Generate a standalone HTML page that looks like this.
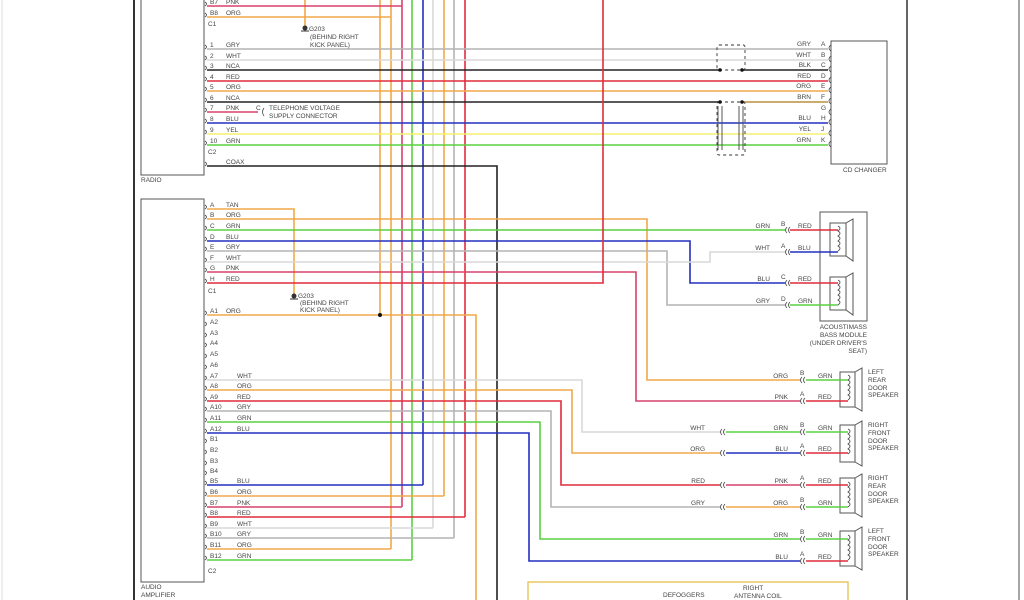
<!DOCTYPE html>
<html><head><meta charset="utf-8"><style>
html,body{margin:0;padding:0;background:#fff;}
svg{display:block;}
text{font-family:"Liberation Sans",sans-serif;font-size:6.5px;fill:#444;}
.w{fill:none;stroke-width:1.6;}
.r{stroke:#e02c3c}.o{stroke:#f0a848}.p{stroke:#d8406c}.g{stroke:#58d040}.b{stroke:#2430c0}
.gy{stroke:#b4b4b4}.wh{stroke:#d8d8d8}.y{stroke:#f4f070}.k{stroke:#222}.br{stroke:#b89040}
.bx{fill:none;stroke:#555;stroke-width:1}
.c{fill:none;stroke:#444;stroke-width:0.8}
</style></head><body>
<svg width="1024" height="600" viewBox="0 0 1024 600" xmlns="http://www.w3.org/2000/svg">
<rect width="1024" height="600" fill="#fff"/>
<line x1="2" y1="0" x2="2" y2="600" stroke="#ddd" stroke-width="1"/>
<line x1="134" y1="0" x2="134" y2="600" stroke="#333" stroke-width="2"/>
<line x1="907" y1="0" x2="907" y2="600" stroke="#333" stroke-width="1.5"/>
<line x1="1019" y1="0" x2="1019" y2="600" stroke="#888" stroke-width="1.5"/>

<!-- boxes -->
<rect class="bx" x="141" y="-2" width="63" height="177"/>
<text x="141" y="182">RADIO</text>
<rect class="bx" x="141" y="199" width="63" height="383"/>
<text x="141" y="589">AUDIO</text>
<text x="141" y="597">AMPLIFIER</text>

<!-- vertical bus wires -->
<path class="w o" d="M380 0V315"/>
<path class="w o" d="M391 0V549"/>
<path class="w p" d="M402 0V507"/>
<path class="w g" d="M412 0V560"/>
<path class="w b" d="M423 0V485"/>
<path class="w wh" d="M433 0V528"/>
<path class="w o" d="M444 0V496"/>
<path class="w gy" d="M454 0V538"/>
<path class="w r" d="M465 0V517"/>
<path class="w o" d="M305 0V27"/>

<!-- radio wires -->
<path class="w p" d="M207 6H402"/>
<path class="w o" d="M207 17H391"/>
<path class="w gy" d="M207 49H828"/>
<path class="w wh" d="M207 60H828"/>
<path class="w k" d="M207 70H720"/>
<path class="w r" d="M207 81H828"/>
<path class="w o" d="M207 91H828"/>
<path class="w k" d="M207 102H720"/>
<path class="w p" d="M207 112H258"/>
<path class="w b" d="M207 123H828"/>
<path class="w y" d="M207 134H828"/>
<path class="w g" d="M207 145H828"/>
<path class="w k" d="M207 166H497V600"/>
<path class="w k" d="M742 70H828"/>
<path class="w br" d="M742 102H828"/>

<!-- amp C1 wires -->
<path class="w o" d="M207 209H294V295"/>
<path class="w o" d="M207 219H647V380H800"/>
<path class="w g" d="M207 230H785"/>
<path class="w b" d="M207 241H690V283H785"/>
<path class="w gy" d="M207 251H667V305H785"/>
<path class="w wh" d="M207 262H710V252H785"/>
<path class="w p" d="M207 272H636V401H800"/>
<path class="w r" d="M207 283H603V0"/>
<!-- amp A wires -->
<path class="w o" d="M207 315H476V600"/>
<circle cx="380" cy="315" r="2" fill="#111"/>
<path class="w wh" d="M207 380H582V432H720"/>
<path class="w o" d="M207 390H572V453H720"/>
<path class="w r" d="M207 401H561V485H720"/>
<path class="w gy" d="M207 411H551V507H720"/>
<path class="w g" d="M207 422H540V539H800"/>
<path class="w b" d="M207 433H529V561H800"/>
<!-- amp B wires -->
<path class="w b" d="M207 485H423"/>
<path class="w o" d="M207 496H444"/>
<path class="w p" d="M207 507H402"/>
<path class="w r" d="M207 517H465"/>
<path class="w wh" d="M207 528H433"/>
<path class="w gy" d="M207 538H454"/>
<path class="w o" d="M207 549H391"/>
<path class="w g" d="M207 560H412"/>

<!-- connector glyphs left -->
<g class="c">
<path d="M205 2q3 2 0 4M205 13q3 2 0 4"/>
<path d="M205 45q3 2 0 4M205 56q3 2 0 4M205 66q3 2 0 4M205 77q3 2 0 4M205 87q3 2 0 4M205 98q3 2 0 4M205 108q3 2 0 4M205 119q3 2 0 4M205 130q3 2 0 4M205 141q3 2 0 4M205 162q3 2 0 4"/>
<path d="M205 205q3 2 0 4M205 215q3 2 0 4M205 226q3 2 0 4M205 237q3 2 0 4M205 247q3 2 0 4M205 258q3 2 0 4M205 268q3 2 0 4M205 279q3 2 0 4"/>
<path d="M205 311q3 2 0 4M205 322q3 2 0 4M205 333q3 2 0 4M205 343q3 2 0 4M205 354q3 2 0 4M205 365q3 2 0 4M205 376q3 2 0 4M205 386q3 2 0 4M205 397q3 2 0 4M205 407q3 2 0 4M205 418q3 2 0 4M205 429q3 2 0 4M205 439q3 2 0 4M205 450q3 2 0 4M205 461q3 2 0 4M205 471q3 2 0 4M205 481q3 2 0 4M205 492q3 2 0 4M205 503q3 2 0 4M205 513q3 2 0 4M205 524q3 2 0 4M205 534q3 2 0 4M205 545q3 2 0 4M205 556q3 2 0 4"/>
</g>

<!-- radio labels -->
<text x="210" y="4">B7</text><text x="226" y="4">PNK</text>
<text x="210" y="15">B8</text><text x="226" y="15">ORG</text>
<text x="208" y="26">C1</text>
<text x="210" y="47">1</text><text x="226" y="47">GRY</text>
<text x="210" y="58">2</text><text x="226" y="58">WHT</text>
<text x="210" y="68">3</text><text x="226" y="68">NCA</text>
<text x="210" y="79">4</text><text x="226" y="79">RED</text>
<text x="210" y="89">5</text><text x="226" y="89">ORG</text>
<text x="210" y="100">6</text><text x="226" y="100">NCA</text>
<text x="210" y="110">7</text><text x="226" y="110">PNK</text>
<text x="210" y="121">8</text><text x="226" y="121">BLU</text>
<text x="210" y="132">9</text><text x="226" y="132">YEL</text>
<text x="210" y="143">10</text><text x="226" y="143">GRN</text>
<text x="208" y="154">C2</text>
<text x="226" y="164">COAX</text>
<text x="256" y="110">C</text><path class="c" d="M264 108q-3 4 0 8"/>
<text x="269" y="110">TELEPHONE VOLTAGE</text>
<text x="269" y="118">SUPPLY CONNECTOR</text>
<circle cx="305" cy="28" r="2.5" fill="#333"/><path d="M301 31h8" stroke="#333"/>
<text x="309" y="31">G203</text>
<text x="310" y="39">(BEHIND RIGHT</text>
<text x="310" y="47">KICK PANEL)</text>

<!-- amp labels -->
<text x="210" y="207">A</text><text x="226" y="207">TAN</text>
<text x="210" y="217">B</text><text x="226" y="217">ORG</text>
<text x="210" y="228">C</text><text x="226" y="228">GRN</text>
<text x="210" y="239">D</text><text x="226" y="239">BLU</text>
<text x="210" y="249">E</text><text x="226" y="249">GRY</text>
<text x="210" y="260">F</text><text x="226" y="260">WHT</text>
<text x="210" y="270">G</text><text x="226" y="270">PNK</text>
<text x="210" y="281">H</text><text x="226" y="281">RED</text>
<text x="208" y="293">C1</text>
<circle cx="294" cy="296" r="2.5" fill="#333"/><path d="M290 299h8" stroke="#333"/>
<text x="298" y="298">G203</text>
<text x="300" y="305">(BEHIND RIGHT</text>
<text x="300" y="312">KICK PANEL)</text>
<text x="210" y="313">A1</text><text x="226" y="313">ORG</text>
<text x="210" y="324">A2</text><text x="210" y="335">A3</text><text x="210" y="345">A4</text><text x="210" y="356">A5</text><text x="210" y="367">A6</text>
<text x="210" y="378">A7</text><text x="237" y="378">WHT</text>
<text x="210" y="388">A8</text><text x="237" y="388">ORG</text>
<text x="210" y="399">A9</text><text x="237" y="399">RED</text>
<text x="210" y="409">A10</text><text x="237" y="409">GRY</text>
<text x="210" y="420">A11</text><text x="237" y="420">GRN</text>
<text x="210" y="431">A12</text><text x="237" y="431">BLU</text>
<text x="210" y="441">B1</text><text x="210" y="452">B2</text><text x="210" y="463">B3</text><text x="210" y="473">B4</text>
<text x="210" y="483">B5</text><text x="237" y="483">BLU</text>
<text x="210" y="494">B6</text><text x="237" y="494">ORG</text>
<text x="210" y="505">B7</text><text x="237" y="505">PNK</text>
<text x="210" y="515">B8</text><text x="237" y="515">RED</text>
<text x="210" y="526">B9</text><text x="237" y="526">WHT</text>
<text x="210" y="536">B10</text><text x="237" y="536">GRY</text>
<text x="210" y="547">B11</text><text x="237" y="547">ORG</text>
<text x="210" y="558">B12</text><text x="237" y="558">GRN</text>
<text x="208" y="573">C2</text>

<!-- CD changer -->
<g stroke="#333" stroke-width="0.9" stroke-dasharray="3,3" fill="none">
<rect x="717" y="45" width="28" height="25" rx="2"/>
<rect x="717" y="102" width="28" height="53" rx="2"/>
</g>
<g stroke="#555" stroke-width="1"><path d="M718 106V150M722 106V150M739 106V150M743 106V150"/></g>
<circle cx="720" cy="70" r="1.8" fill="#111"/><circle cx="742" cy="70" r="1.8" fill="#111"/>
<circle cx="720" cy="102" r="1.8" fill="#111"/><circle cx="742" cy="102" r="1.8" fill="#111"/>
<rect class="bx" x="831" y="41" width="56" height="123"/>
<text x="843" y="172">CD CHANGER</text>
<g text-anchor="end">
<text x="811" y="46">GRY</text><text x="811" y="57">WHT</text><text x="811" y="67">BLK</text><text x="811" y="78">RED</text><text x="811" y="88">ORG</text><text x="811" y="99">BRN</text><text x="811" y="120">BLU</text><text x="811" y="131">YEL</text><text x="811" y="142">GRN</text>
</g>
<text x="821" y="46">A</text><text x="821" y="57">B</text><text x="821" y="67">C</text><text x="821" y="78">D</text><text x="821" y="88">E</text><text x="821" y="99">F</text><text x="821" y="110">G</text><text x="821" y="120">H</text><text x="821" y="131">J</text><text x="821" y="142">K</text>
<g class="c"><path d="M831 45q-4 3 0 6M831 56q-4 3 0 6M831 66q-4 3 0 6M831 77q-4 3 0 6M831 87q-4 3 0 6M831 98q-4 3 0 6M831 109q-4 3 0 6M831 119q-4 3 0 6M831 130q-4 3 0 6M831 141q-4 3 0 6"/></g>

<!-- Bass module -->
<rect class="bx" x="820" y="212" width="47" height="109"/>
<path class="bx" d="M830 223h16v33h-16zM846 223l7-4v42l-7-5"/>
<path class="bx" d="M830 277h16v33h-16zM846 277l7-4v42l-7-5"/>
<path class="c" d="M838 226q4 2 0 5q4 2 0 5q4 2 0 5q4 2 0 5q4 2 0 5M838 280q4 2 0 5q4 2 0 5q4 2 0 5q4 2 0 5q4 2 0 5"/>
<path class="w r" d="M790 230H838"/><path class="w b" d="M790 252H838"/>
<path class="w r" d="M790 283H838"/><path class="w g" d="M790 305H838"/>
<g class="c"><path d="M787 227q-3 3 0 6M790 227q-3 3 0 6M787 249q-3 3 0 6M790 249q-3 3 0 6M787 280q-3 3 0 6M790 280q-3 3 0 6M787 302q-3 3 0 6M790 302q-3 3 0 6"/></g>
<g text-anchor="end"><text x="770" y="228">GRN</text><text x="770" y="250">WHT</text><text x="770" y="281">BLU</text><text x="770" y="303">GRY</text>
<text x="867" y="329">ACOUSTIMASS</text><text x="867" y="337">BASS MODULE</text><text x="867" y="345">(UNDER DRIVER'S</text><text x="867" y="353">SEAT)</text></g>
<text x="781" y="226">B</text><text x="781" y="248">A</text><text x="781" y="279">C</text><text x="781" y="301">D</text>
<text x="798" y="228">RED</text><text x="798" y="250">BLU</text><text x="798" y="281">RED</text><text x="798" y="303">GRN</text>

<!-- door speakers -->
<g id="spk">
</g>
<!-- left rear -->
<path class="bx" d="M840 372h15v35h-15zM855 372l7-4v43l-7-4"/>
<path class="c" d="M848 375q4 2 0 5q4 2 0 5q4 2 0 5q4 2 0 5q4 2 0 5"/>
<path class="w g" d="M806 380H848"/><path class="w r" d="M806 401H848"/>
<!-- right front -->
<path class="bx" d="M840 425h15v37h-15zM855 425l7-4v45l-7-4"/>
<path class="c" d="M848 429q4 2 0 5q4 2 0 5q4 2 0 5q4 2 0 5q4 2 0 5"/>
<path class="w g" d="M726 432H800M806 432H848"/><path class="w b" d="M726 453H800"/><path class="w r" d="M806 453H848"/>
<!-- right rear -->
<path class="bx" d="M840 478h15v35h-15zM855 478l7-4v43l-7-4"/>
<path class="c" d="M848 482q4 2 0 5q4 2 0 5q4 2 0 5q4 2 0 5q4 2 0 5"/>
<path class="w p" d="M726 485H800"/><path class="w r" d="M806 485H848"/>
<path class="w o" d="M726 507H800"/><path class="w g" d="M806 507H848"/>
<!-- left front -->
<path class="bx" d="M840 531h15v35h-15zM855 531l7-4v43l-7-4"/>
<path class="c" d="M848 535q4 2 0 5q4 2 0 5q4 2 0 5q4 2 0 5q4 2 0 5"/>
<path class="w g" d="M806 539H848"/><path class="w r" d="M806 561H848"/>
<g class="c">
<path d="M802 377q-3 3 0 6M805 377q-3 3 0 6M802 398q-3 3 0 6M805 398q-3 3 0 6"/>
<path d="M802 429q-3 3 0 6M805 429q-3 3 0 6M802 450q-3 3 0 6M805 450q-3 3 0 6"/>
<path d="M802 482q-3 3 0 6M805 482q-3 3 0 6M802 504q-3 3 0 6M805 504q-3 3 0 6"/>
<path d="M802 536q-3 3 0 6M805 536q-3 3 0 6M802 558q-3 3 0 6M805 558q-3 3 0 6"/>
<path d="M722 429q-3 3 0 6M725 429q-3 3 0 6M722 450q-3 3 0 6M725 450q-3 3 0 6M722 482q-3 3 0 6M725 482q-3 3 0 6M722 504q-3 3 0 6M725 504q-3 3 0 6"/>
</g>
<g text-anchor="end">
<text x="788" y="378">ORG</text><text x="788" y="399">PNK</text>
<text x="705" y="430">WHT</text><text x="705" y="451">ORG</text><text x="705" y="483">RED</text><text x="705" y="505">GRY</text>
<text x="788" y="430">GRN</text><text x="788" y="451">BLU</text><text x="788" y="483">PNK</text><text x="788" y="505">ORG</text>
<text x="788" y="537">GRN</text><text x="788" y="559">BLU</text>
</g>
<text x="800" y="375">B</text><text x="800" y="396">A</text><text x="800" y="427">B</text><text x="800" y="448">A</text>
<text x="800" y="480">A</text><text x="800" y="502">B</text><text x="800" y="534">B</text><text x="800" y="556">A</text>
<text x="818" y="378">GRN</text><text x="818" y="399">RED</text><text x="818" y="430">GRN</text><text x="818" y="451">RED</text>
<text x="818" y="483">RED</text><text x="818" y="505">GRN</text><text x="818" y="537">GRN</text><text x="818" y="559">RED</text>
<text x="868" y="374">LEFT</text><text x="868" y="382">REAR</text><text x="868" y="390">DOOR</text><text x="868" y="397">SPEAKER</text>
<text x="868" y="427">RIGHT</text><text x="868" y="435">FRONT</text><text x="868" y="443">DOOR</text><text x="868" y="450">SPEAKER</text>
<text x="868" y="480">RIGHT</text><text x="868" y="488">REAR</text><text x="868" y="496">DOOR</text><text x="868" y="503">SPEAKER</text>
<text x="868" y="533">LEFT</text><text x="868" y="541">FRONT</text><text x="868" y="549">DOOR</text><text x="868" y="556">SPEAKER</text>

<!-- bottom yellow box -->
<path d="M528 601V582H848V601" fill="none" stroke="#e8c860" stroke-width="1.5"/>
<text x="663" y="597">DEFOGGERS</text>
<text x="743" y="590">RIGHT</text>
<text x="734" y="598">ANTENNA COIL</text>
</svg>
</body></html>
